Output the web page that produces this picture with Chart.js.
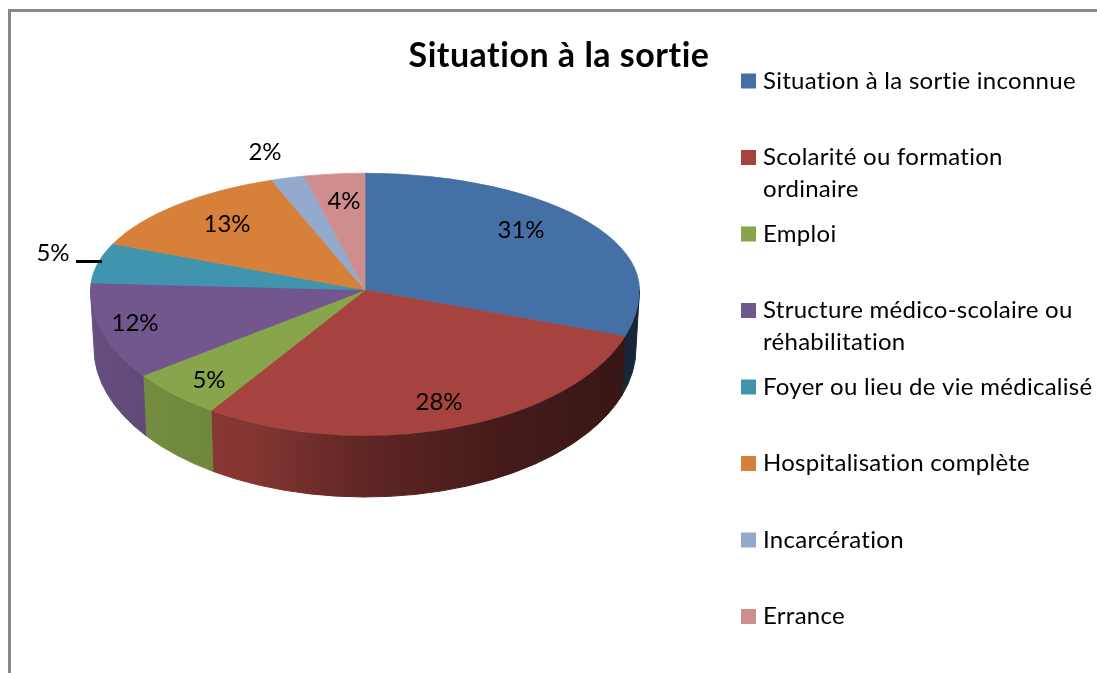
<!DOCTYPE html>
<html>
<head>
<meta charset="utf-8">
<title>Situation à la sortie</title>
<script src="https://cdn.jsdelivr.net/npm/chart.js@4"></script>
<style>
    html, body { margin: 0; padding: 0; background: #fff; }
    canvas { display: block; }
</style>
</head>
<body>
<canvas id="chart" width="1097" height="673"></canvas>
<script>
const chartTitle = 'Situation à la sortie';
const categories = [
    'Situation à la sortie inconnue',
    'Scolarité ou formation ordinaire',
    'Emploi',
    'Structure médico-scolaire ou réhabilitation',
    'Foyer ou lieu de vie médicalisé',
    'Hospitalisation complète',
    'Incarcération',
    'Errance',
];
// Printed percentages are whole numbers, decimals estimated from the slice angles
const shares = [30.5, 28.49, 5.49, 11.5, 5.49, 13.0, 2.0, 3.53];
const colors = ['#4470A6', '#A6433F', '#88A54B', '#71578E', '#4094AD', '#D7803A', '#93A9CE', '#CF8E8D'];

// Legend lines, wrapped as in the picture
const legendLines = [
    ['Situation à la sortie inconnue'],
    ['Scolarité ou formation', 'ordinaire'],
    ['Emploi'],
    ['Structure médico-scolaire ou', 'réhabilitation'],
    ['Foyer ou lieu de vie médicalisé'],
    ['Hospitalisation complète'],
    ['Incarcération'],
    ['Errance'],
];

const FONT = 'Lato, "Open Sans", sans-serif';

// Look of the fake 3D pie
const topSquash = 117 / 275;
const bottomSquash = 146 / 275;
const frontStretch = 1.07; // perspective pushes the front slices outwards
const wallDepth = 58;
const wallRadiusX = 271;
const wallRadiusY = 149;
// Brightness of the side wall from left to right
const wallShade = [[0, 0.9], [0.1, 0.85], [0.29, 0.8], [0.5, 0.57], [0.75, 0.41], [1, 0.33]];

// Label centres in pixels
const labelSpots = [[521, 230], [439, 402], [209, 380], [135, 323], [53, 253], [227, 224], [265, 152], [344, 201]];

function shadeColor(hex, k) {
    const n = parseInt(hex.slice(1), 16);
    const r = Math.round((n >> 16 & 255) * k);
    const g = Math.round((n >> 8 & 255) * k);
    const b = Math.round((n & 255) * k);
    return `rgb(${r},${g},${b})`;
}

// Where a slice edge meets the rim once the front half is stretched
function frontAngle(a) {
    return Math.atan2(Math.sin(a), frontStretch * Math.cos(a));
}

// Side walls, only the front part (canvas angles 0 to PI) can be seen
function drawWalls(chart, arcs) {
    const ctx = chart.ctx;
    arcs.forEach((arc, i) => {
        const start = Math.max(arc.startAngle, 0);
        const end = Math.min(arc.endAngle, Math.PI);
        if (end <= start) return;
        const a0 = frontAngle(start);
        const a1 = frontAngle(end);
        const R = arc.outerRadius;
        const grad = ctx.createLinearGradient(arc.x - R, 0, arc.x + R, 0);
        wallShade.forEach(([t, k]) => grad.addColorStop(t, shadeColor(colors[i], k)));
        ctx.save();
        ctx.beginPath();
        ctx.ellipse(arc.x, arc.y, R, R * bottomSquash, 0, a0, a1);
        ctx.ellipse(arc.x, arc.y + wallDepth, wallRadiusX, wallRadiusY, 0, a1, a0, true);
        ctx.closePath();
        ctx.fillStyle = grad;
        ctx.strokeStyle = grad;
        ctx.lineWidth = 1;
        ctx.fill();
        ctx.stroke();
        ctx.restore();
    });
}

// Library arcs squashed around the pie centre, back half and front half have their own ratio
function drawBack(chart, arcs) {
    const ctx = chart.ctx;
    const cy = arcs[0].y;
    ctx.save();
    ctx.beginPath();
    ctx.rect(0, 0, chart.width, cy);
    ctx.clip();
    ctx.translate(0, cy);
    ctx.scale(1, topSquash);
    ctx.translate(0, -cy);
    arcs.forEach((arc) => arc.draw(ctx, chart.chartArea));
    ctx.restore();
}

function drawFront(chart, arcs) {
    const ctx = chart.ctx;
    const { x: cx, y: cy, outerRadius: R } = arcs[0];
    ctx.save();
    ctx.beginPath();
    ctx.ellipse(cx, cy, R, R * bottomSquash, 0, -0.02, Math.PI + 0.02);
    ctx.closePath();
    ctx.clip();
    ctx.translate(cx, cy);
    ctx.scale(frontStretch, bottomSquash);
    ctx.translate(-cx, -cy);
    arcs.forEach((arc) => arc.draw(ctx, chart.chartArea));
    ctx.restore();
}

const pie3d = {
    id: 'pie3d',
    beforeDraw(chart) {
        const ctx = chart.ctx;
        ctx.save();
        ctx.fillStyle = '#fff';
        ctx.fillRect(0, 0, chart.width, chart.height);
        // frame of the pasted chart, cut on the right and at the bottom
        ctx.fillStyle = '#888';
        ctx.fillRect(8, 9, chart.width - 8, 3);
        ctx.fillRect(8, 9, 3, chart.height - 9);
        ctx.restore();
    },
    beforeDatasetsDraw(chart) {
        const arcs = chart.getDatasetMeta(0).data;
        drawWalls(chart, arcs);
        drawFront(chart, arcs);
        drawBack(chart, arcs);
        return false;
    },
    afterDraw(chart) {
        const ctx = chart.ctx;
        ctx.save();
        ctx.fillStyle = '#000';
        ctx.textBaseline = 'middle';

        // title
        ctx.textAlign = 'center';
        ctx.font = `bold 34px ${FONT}`;
        ctx.letterSpacing = '0.5px';
        ctx.fillText(chartTitle, 559, 56);

        // percentages
        ctx.font = `24px ${FONT}`;
        ctx.letterSpacing = '0px';
        shares.forEach((v, i) => {
            ctx.fillText(`${Math.round(v)}%`, labelSpots[i][0], labelSpots[i][1]);
        });

        // leader line of the outside 5%
        ctx.fillRect(76, 260, 26, 3);

        // legend, the spacing also keeps Lato from joining "ti"
        ctx.textAlign = 'left';
        ctx.font = `24px ${FONT}`;
        ctx.letterSpacing = '0.28px';
        categories.forEach((name, i) => {
            const y = 81 + i * 76.5;
            ctx.fillStyle = colors[i];
            ctx.fillRect(741, y - 7.5, 15, 15);
            ctx.fillStyle = '#000';
            legendLines[i].forEach((line, j) => ctx.fillText(line, 763, y + j * 32));
        });
        ctx.restore();
    },
};

new Chart(document.getElementById('chart'), {
    type: 'pie',
    data: {
        labels: categories,
        datasets: [{
            data: shares,
            backgroundColor: colors,
            borderColor: colors,
            borderWidth: 1,
        }],
    },
    options: {
        responsive: false,
        animation: false,
        events: [],
        layout: { padding: { left: 90, right: 457, top: 15, bottom: 108 } },
        plugins: {
            legend: { display: false },
            title: { display: false },
            tooltip: { enabled: false },
        },
    },
    plugins: [pie3d],
});
</script>
</body>
</html>
